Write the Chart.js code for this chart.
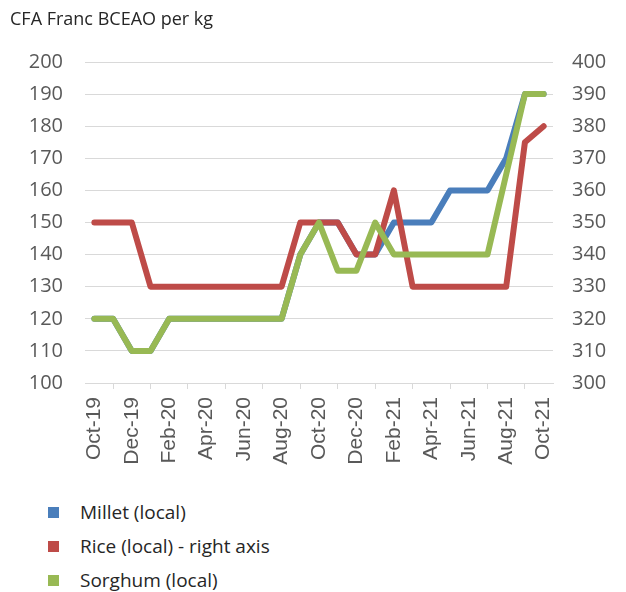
<!DOCTYPE html>
<html>
<head>
<meta charset="utf-8">
<script src="https://cdn.jsdelivr.net/npm/chart.js@4/dist/chart.umd.min.js"></script>
<style>
  body { margin: 0; background: #fff; }
  #wrap { position: relative; width: 626px; height: 592px; }
  #title { position: absolute; left: 10px; top: 6px; font: 18px "Open Sans", sans-serif; color: #262626; }
  #chart { position: absolute; left: 0; top: 0; }
  #legend { position: absolute; left: 48px; top: 500px; font: 19px "Open Sans", sans-serif; color: #262626; }
  #legend div { height: 34px; line-height: 24px; }
  #legend span { display: inline-block; width: 11px; height: 11px; margin-right: 21px; vertical-align: 1px; }
</style>
</head>
<body>
<div id="wrap">
  <canvas id="chart" width="626" height="470"></canvas>
  <div id="title">CFA Franc BCEAO per kg</div>
  <div id="legend"></div>
</div>
<script>
/* Daten */
const months = ['Oct-19', 'Nov-19', 'Dec-19', 'Jan-20', 'Feb-20', 'Mar-20', 'Apr-20', 'May-20', 'Jun-20',
  'Jul-20', 'Aug-20', 'Sep-20', 'Oct-20', 'Nov-20', 'Dec-20', 'Jan-21', 'Feb-21', 'Mar-21', 'Apr-21',
  'May-21', 'Jun-21', 'Jul-21', 'Aug-21', 'Sep-21', 'Oct-21'];
const millet = [120, 120, 110, 110, 120, 120, 120, 120, 120, 120, 120, 140, 150, 150, 140, 140, 150, 150, 150, 160, 160, 160, 170, 190, 190];
const rice = [350, 350, 350, 330, 330, 330, 330, 330, 330, 330, 330, 350, 350, 350, 340, 340, 360, 330, 330, 330, 330, 330, 330, 375, 380];
const sorghum = [120, 120, 110, 110, 120, 120, 120, 120, 120, 120, 120, 140, 150, 135, 135, 150, 140, 140, 140, 140, 140, 140, 165, 190, 190];
const leftTicks = [100, 200, 10];
const rightTicks = [300, 400, 10];

const grey = '#595959';
const gridColor = '#d9d9d9';

function line(label, data, color, axis, order) {
  return {
    label: label, data: data, yAxisID: axis, order: order,
    borderColor: color, backgroundColor: color,
    borderWidth: 6, pointRadius: 0, tension: 0,
    borderJoinStyle: 'round', borderCapStyle: 'round'
  };
}

const chart = new Chart(document.getElementById('chart'), {
  type: 'line',
  data: {
    labels: months,
    datasets: [
      line('Millet (local)', millet, '#4a7ebb', 'y', 3),
      line('Rice (local) - right axis', rice, '#be4b48', 'y2', 2),
      line('Sorghum (local)', sorghum, '#98b954', 'y', 1)
    ]
  },
  options: {
    responsive: false,
    animation: false,
    layout: { padding: { top: 62, left: 0, right: 0, bottom: 0 } },
    plugins: { legend: { display: false }, tooltip: { enabled: false } },
    scales: {
      x: {
        offset: true,
        grid: { offset: true, drawOnChartArea: false, color: gridColor, tickLength: 6 },
        border: { color: gridColor },
        ticks: {
          autoSkip: false, minRotation: 90, maxRotation: 90, padding: 8,
          color: grey, font: { family: 'Liberation Sans', size: 21 },
          callback: function (v, i) { return i % 2 === 0 ? months[i] : null; }
        },
        afterFit: function (s) { s.height = 87; }
      },
      y: {
        position: 'left', min: leftTicks[0], max: leftTicks[1],
        grid: { color: gridColor, drawTicks: false },
        border: { display: false },
        ticks: { stepSize: leftTicks[2], padding: 22, color: grey, font: { family: 'Open Sans', size: 20 } },
        afterFit: function (s) { s.width = 85; }
      },
      y2: {
        position: 'right', min: rightTicks[0], max: rightTicks[1],
        grid: { drawOnChartArea: false, drawTicks: false },
        border: { display: false },
        ticks: { stepSize: rightTicks[2], padding: 19, color: grey, font: { family: 'Open Sans', size: 20 } },
        afterFit: function (s) { s.width = 73; }
      }
    }
  }
});

/* Legende */
let legend = document.getElementById('legend');
chart.data.datasets.forEach(function (ds) {
  let row = document.createElement('div');
  let box = document.createElement('span');
  box.style.background = ds.borderColor;
  row.appendChild(box);
  row.appendChild(document.createTextNode(ds.label));
  legend.appendChild(row);
});
</script>
</body>
</html>
